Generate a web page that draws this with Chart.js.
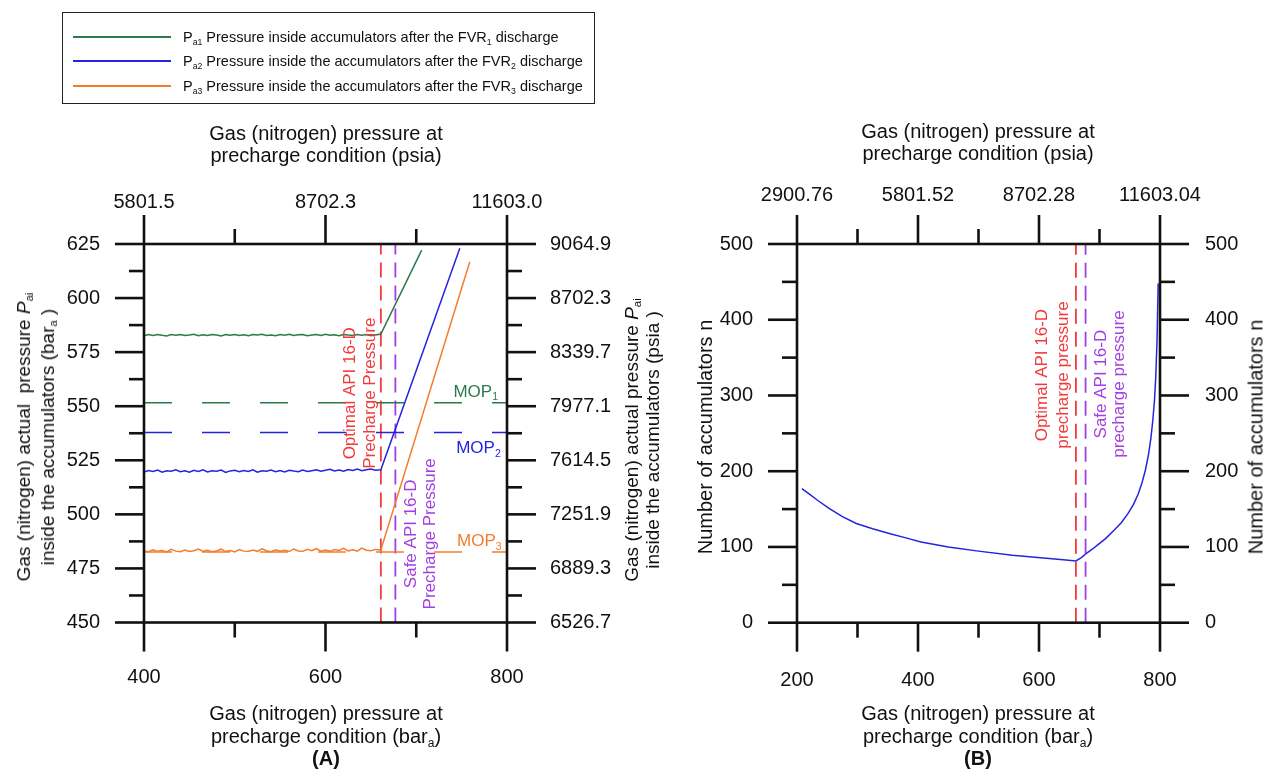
<!DOCTYPE html>
<html>
<head>
<meta charset="utf-8">
<script src="https://cdn.jsdelivr.net/npm/chart.js@4.4.0/dist/chart.umd.min.js"></script>
<style>
  body { margin:0; background:#fff; }
  #page { position:relative; width:1263px; height:774px; overflow:hidden; font-family:'Liberation Sans', Arial, sans-serif; color:#111; }
  canvas { position:absolute; top:0; }
  .lbl { position:absolute; white-space:nowrap; text-align:center; transform:translate(-50%,-50%); font-size:20px; }
  .rot { transform:translate(-50%,-50%) rotate(-90deg); }
  sub { font-size:60%; vertical-align:-0.3em; line-height:0; }
  .legend { position:absolute; left:62px; top:12px; width:533px; height:92px; box-sizing:border-box; border:1.5px solid #222; }
  .lg-line { position:absolute; left:10px; width:98px; height:2px; }
  .lg-text { position:absolute; left:120px; font-size:14.5px; transform:translateY(-50%); white-space:nowrap; }
</style>
</head>
<body>
<div id="page">
  <canvas id="chartA" width="640" height="774" style="left:0"></canvas>
  <canvas id="chartB" width="623" height="774" style="left:640px"></canvas>

  <div class="legend">
    <div class="lg-line" style="top:23px;background:#2b7a4b"></div>
    <div class="lg-text" style="top:24px">P<sub>a1</sub> Pressure inside accumulators after the FVR<sub>1</sub> discharge</div>
    <div class="lg-line" style="top:47px;background:#2424e0"></div>
    <div class="lg-text" style="top:48px">P<sub>a2</sub> Pressure inside the accumulators after the FVR<sub>2</sub> discharge</div>
    <div class="lg-line" style="top:72px;background:#f37c2d"></div>
    <div class="lg-text" style="top:73px">P<sub>a3</sub> Pressure inside the accumulators after the FVR<sub>3</sub> discharge</div>
  </div>

  <!-- chart A titles -->
  <div class="lbl" style="left:326px;top:144px;line-height:21.5px">Gas (nitrogen) pressure at<br>precharge condition (psia)</div>
  <div class="lbl" style="left:326px;top:736px;line-height:22.5px">Gas (nitrogen) pressure at<br>precharge condition (bar<sub>a</sub>)<br><b>(A)</b></div>
  <div class="lbl rot" style="left:36px;top:437px;line-height:24px;font-size:19px">Gas (nitrogen) actual&nbsp; pressure <i>P</i><sub>ai</sub><br>inside the accumulators (bar<sub>a</sub>&nbsp;)</div>
  <div class="lbl rot" style="left:642px;top:440px;line-height:21px;font-size:19px">Gas (nitrogen) actual pressure <i>P</i><sub>ai</sub><br>inside the accumulators (psia&nbsp;)</div>

  <!-- chart B titles -->
  <div class="lbl" style="left:978px;top:142px;line-height:21.5px">Gas (nitrogen) pressure at<br>precharge condition (psia)</div>
  <div class="lbl" style="left:978px;top:736px;line-height:22.5px">Gas (nitrogen) pressure at<br>precharge condition (bar<sub>a</sub>)<br><b>(B)</b></div>
  <div class="lbl rot" style="left:705px;top:437px">Number of accumulators n</div>
  <div class="lbl rot" style="left:1256px;top:437px">Number of accumulators n</div>
</div>

<script>
// ---- chart A data ----
const precharge = [400,405,410,415,420,425,430,435,440,445,
                   450,455,460,465,470,475,480,485,490,495,
                   500,505,510,515,520,525,530,535,540,545,
                   550,555,560,565,570,575,580,585,590,595,
                   600,605,610,615,620,625,630,635,640,645,
                   650,655,661];
const pa1 = [582.6,583.1,582.7,583.2,582.8,582.5,583.1,582.8,583.2,582.7,
             582.9,583.3,582.6,583.0,582.7,583.2,582.9,582.5,583.1,582.8,
             583.2,582.7,583.0,582.6,583.2,582.9,583.3,582.7,582.9,582.6,
             583.1,582.8,583.3,582.7,583.0,583.2,582.6,582.9,583.1,582.7,
             583.3,582.8,583.0,582.6,583.2,582.9,582.7,583.1,582.8,583.2,
             582.6,582.9,583.4];
const pa2 = [519.6,520.3,519.8,520.5,519.5,520.2,519.9,520.6,519.7,520.1,
             519.5,520.4,519.8,520.6,519.6,520.2,519.9,520.5,519.4,520.1,
             520.4,519.7,520.3,519.8,520.6,519.5,520.2,519.9,520.5,519.7,
             520.3,519.6,520.4,520.0,519.7,520.5,519.8,520.2,520.6,519.9,
             520.4,520.8,520.1,520.5,519.9,520.7,520.3,520.9,520.2,520.6,
             521.0,520.4,520.6];
const pa3 = [483.1,482.7,483.6,482.9,483.3,482.6,483.8,483.0,482.7,483.5,
             482.8,483.2,484.0,482.9,483.4,482.7,483.1,483.9,482.8,483.3,
             482.6,483.7,483.0,482.8,483.5,482.9,484.1,483.2,482.7,483.6,
             483.0,483.4,482.8,484.0,483.1,482.9,483.8,483.2,484.2,483.0,
             483.5,482.9,483.7,483.3,484.3,483.1,483.6,483.0,484.4,483.4,
             483.2,483.8,483.5];
// end point of each rising branch [bar, bar]
const pa1End = [706, 622.2];
const pa2End = [748, 623.0];
const pa3End = [759, 616.8];
const mopLevels = [551.6, 537.8, 482.6];     // MOP1..3
const apiPrecharge = [661, 677];             // optimal, safe
const aBottomLabels = ['400', '600', '800'];
const aTopLabels = ['5801.5', '8702.3', '11603.0'];
const aLeftLabels = ['450', '475', '500', '525', '550', '575', '600', '625'];
const aRightLabels = ['6526.7', '6889.3', '7251.9', '7614.5', '7977.1', '8339.7', '8702.3', '9064.9'];

// ---- chart B data ----
const bPrecharge = [208,220,235,253,275,298,325,354,380,405,
                    450,500,556,612,640,661,670,679,688,696,
                    710,724,736,747,756,764,770,776,781,785,
                    788,791,793,795,797];
const bCount = [177,170,161,151,140,131,124,117.5,112,106.5,
                100,94.5,89,85,83,81.5,86,92,97,102,
                111,122,132,144,156,170,184,202,222,244,
                266,295,325,370,448];
const bBottomLabels = ['200', '400', '600', '800'];
const bTopLabels = ['2900.76', '5801.52', '8702.28', '11603.04'];
const bSideLabels = ['0', '100', '200', '300', '400', '500'];

const FONT = "'Liberation Sans', Arial, sans-serif";
const GREEN = '#2b7a4b', BLUE = '#2424e0', ORANGE = '#f37c2d', RED = '#f23a3a', PURPLE = '#a33fe0';

// frame + outward tick marks (long for labelled ticks, short for minor)
const frameTicks = {
  id: 'frameTicks',
  afterDatasetsDraw(chart) {
    const { ctx, chartArea: a } = chart;
    ctx.save();
    ctx.strokeStyle = '#111';
    ctx.lineWidth = 2.6;
    ctx.strokeRect(a.left, a.top, a.right - a.left, a.bottom - a.top);
    Object.values(chart.scales).forEach(s => {
      s.ticks.forEach(t => {
        const len = t.label ? 29 : 15;
        const p = s.getPixelForValue(t.value);
        ctx.beginPath();
        if (s.position === 'bottom') { ctx.moveTo(p, a.bottom); ctx.lineTo(p, a.bottom + len); }
        if (s.position === 'top') { ctx.moveTo(p, a.top); ctx.lineTo(p, a.top - len); }
        if (s.position === 'left') { ctx.moveTo(a.left, p); ctx.lineTo(a.left - len, p); }
        if (s.position === 'right') { ctx.moveTo(a.right, p); ctx.lineTo(a.right + len, p); }
        ctx.stroke();
      });
    });
    ctx.restore();
  }
};

// in-plot text notes, anchored in data coordinates
const notes = {
  id: 'notes',
  afterDatasetsDraw(chart, args, opts) {
    const { ctx } = chart;
    const xs = chart.scales.x, ys = chart.scales.y;
    (opts.items || []).forEach(n => {
      const px = xs.getPixelForValue(n.x) + (n.dx || 0);
      const py = ys.getPixelForValue(n.y);
      ctx.save();
      ctx.fillStyle = n.color;
      ctx.textBaseline = 'middle';
      if (n.rotate) {
        ctx.translate(px, py);
        ctx.rotate(-Math.PI / 2);
        ctx.textAlign = 'center';
        ctx.font = n.size + 'px ' + FONT;
        ctx.fillText(n.text, 0, 0);
      } else {
        ctx.textAlign = 'left';
        let cx = px;
        n.parts.forEach(([t, sub]) => {
          ctx.font = (sub ? n.size * 0.62 : n.size) + 'px ' + FONT;
          ctx.fillText(t, cx, sub ? py + n.size * 0.32 : py);
          cx += ctx.measureText(t).width;
        });
      }
      ctx.restore();
    });
  }
};

function axis(position, min, max, step, labels, padding, size) {
  const horiz = position === 'top' || position === 'bottom';
  return {
    type: 'linear', position, min, max,
    grid: { display: false, drawTicks: false },
    border: { display: false },
    ticks: {
      stepSize: step, autoSkip: false, maxRotation: 0, padding,
      color: '#111', font: { family: FONT, size: 20 },
      callback: (v, i) => (i % 2 === 0 ? labels[i / 2] : '')
    },
    afterFit: s => { if (horiz) s.height = size; else s.width = size; }
  };
}

const pts = (xs, ys) => xs.map((x, i) => ({ x, y: ys[i] }));
const line = (data, color, extra) => Object.assign({
  data, borderColor: color, borderWidth: 1.5, pointRadius: 0, tension: 0, fill: false
}, extra || {});

const commonPlugins = { legend: { display: false }, tooltip: { enabled: false } };

new Chart(document.getElementById('chartA'), {
  type: 'line',
  data: {
    datasets: [
      line(pts(precharge, pa1).concat({ x: pa1End[0], y: pa1End[1] }), GREEN),
      line(pts(precharge, pa2).concat({ x: pa2End[0], y: pa2End[1] }), BLUE),
      line(pts(precharge, pa3).concat({ x: pa3End[0], y: pa3End[1] }), ORANGE),
      line([{ x: 400, y: mopLevels[0] }, { x: 800, y: mopLevels[0] }], GREEN, { borderDash: [28, 30] }),
      line([{ x: 400, y: mopLevels[1] }, { x: 800, y: mopLevels[1] }], BLUE, { borderDash: [28, 30] }),
      line([{ x: 400, y: mopLevels[2] }, { x: 800, y: mopLevels[2] }], ORANGE, { borderDash: [28, 30] }),
      line([{ x: apiPrecharge[0], y: 450 }, { x: apiPrecharge[0], y: 625 }], RED, { borderDash: [15, 8], borderWidth: 1.8 }),
      line([{ x: apiPrecharge[1], y: 450 }, { x: apiPrecharge[1], y: 625 }], PURPLE, { borderDash: [15, 8], borderWidth: 1.8 })
    ]
  },
  options: {
    responsive: false, animation: false,
    layout: { padding: 0 },
    scales: {
      x: axis('bottom', 400, 800, 100, aBottomLabels, 43, 151.5),
      x2: axis('top', 400, 800, 100, aTopLabels, 30, 244),
      y: axis('left', 450, 625, 12.5, aLeftLabels, 44, 144),
      y2: axis('right', 450, 625, 12.5, aRightLabels, 43, 133)
    },
    plugins: Object.assign({}, commonPlugins, {
      notes: { items: [
        { x: apiPrecharge[0], y: 556, dx: -31, rotate: true, size: 17, color: RED, text: 'Optimal API 16-D' },
        { x: apiPrecharge[0], y: 556, dx: -11, rotate: true, size: 17, color: RED, text: 'Precharge Pressure' },
        { x: apiPrecharge[1], y: 491, dx: 16, rotate: true, size: 17, color: PURPLE, text: 'Safe API 16-D' },
        { x: apiPrecharge[1], y: 491, dx: 35, rotate: true, size: 17, color: PURPLE, text: 'Precharge Pressure' },
        { x: 741, y: mopLevels[0] + 5, size: 17, color: GREEN, parts: [['MOP', 0], ['1', 1]] },
        { x: 744, y: mopLevels[1] - 7.3, size: 17, color: BLUE, parts: [['MOP', 0], ['2', 1]] },
        { x: 745, y: mopLevels[2] + 5, size: 17, color: ORANGE, parts: [['MOP', 0], ['3', 1]] }
      ] }
    })
  },
  plugins: [frameTicks, notes]
});

new Chart(document.getElementById('chartB'), {
  type: 'line',
  data: {
    datasets: [
      line(pts(bPrecharge, bCount), BLUE),
      line([{ x: apiPrecharge[0], y: 0 }, { x: apiPrecharge[0], y: 500 }], RED, { borderDash: [15, 8], borderWidth: 1.8 }),
      line([{ x: apiPrecharge[1], y: 0 }, { x: apiPrecharge[1], y: 500 }], PURPLE, { borderDash: [15, 8], borderWidth: 1.8 })
    ]
  },
  options: {
    responsive: false, animation: false,
    layout: { padding: 0 },
    scales: {
      x: axis('bottom', 200, 800, 100, bBottomLabels, 46, 151.3),
      x2: axis('top', 200, 800, 100, bTopLabels, 37, 244),
      y: axis('left', 0, 500, 50, bSideLabels, 44, 157),
      y2: axis('right', 0, 500, 50, bSideLabels, 45, 103)
    },
    plugins: Object.assign({}, commonPlugins, {
      notes: { items: [
        { x: apiPrecharge[0], y: 327, dx: -34, rotate: true, size: 17, color: RED, text: 'Optimal API 16-D' },
        { x: apiPrecharge[0], y: 327, dx: -13, rotate: true, size: 17, color: RED, text: 'precharge pressure' },
        { x: apiPrecharge[1], y: 315, dx: 16, rotate: true, size: 17, color: PURPLE, text: 'Safe API 16-D' },
        { x: apiPrecharge[1], y: 315, dx: 34, rotate: true, size: 17, color: PURPLE, text: 'precharge pressure' }
      ] }
    })
  },
  plugins: [frameTicks, notes]
});
</script>
</body>
</html>
